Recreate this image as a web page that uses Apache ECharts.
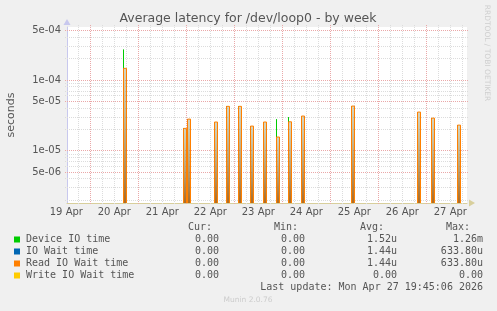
<!DOCTYPE html>
<html><head><meta charset="utf-8">
<script src="https://cdn.jsdelivr.net/npm/echarts@6/dist/echarts.min.js"></script>
<style>html,body{margin:0;padding:0;background:#f0f0f0}#c{width:497px;height:311px}</style>
</head><body><div id="c"></div>
<script>
// ---- data ----
const spikeTimes = [
  '2026-04-20T17:30:00Z','2026-04-21T23:30:00Z','2026-04-22T01:30:00Z','2026-04-22T15:00:00Z',
  '2026-04-22T21:00:00Z','2026-04-23T03:00:00Z','2026-04-23T09:00:00Z','2026-04-23T15:30:00Z',
  '2026-04-23T22:00:00Z','2026-04-24T04:00:00Z','2026-04-24T10:30:00Z','2026-04-25T11:30:00Z',
  '2026-04-26T20:30:00Z','2026-04-27T03:30:00Z','2026-04-27T16:30:00Z'
];
const deviceIO  = [2.67e-4, 2.04e-5, 2.76e-5, 2.51e-5, 4.18e-5, 4.18e-5, 2.2e-5, 2.51e-5, 2.76e-5, 2.95e-5, 3.05e-5, 4.22e-5, 3.47e-5, 2.85e-5, 2.27e-5];
const ioWait    = [1.44e-4, 2.04e-5, 2.76e-5, 2.51e-5, 4.18e-5, 4.18e-5, 2.2e-5, 2.51e-5, 1.54e-5, 2.53e-5, 3.05e-5, 4.22e-5, 3.47e-5, 2.85e-5, 2.27e-5];
const readIO    = [1.44e-4, 2.04e-5, 2.76e-5, 2.51e-5, 4.18e-5, 4.18e-5, 2.2e-5, 2.51e-5, 1.54e-5, 2.53e-5, 3.05e-5, 4.22e-5, 3.47e-5, 2.85e-5, 2.27e-5];
const writeIO   = [0,0,0,0,0,0,0,0,0,0,0,0,0,0,0];

const dayLabels = ['19 Apr','20 Apr','21 Apr','22 Apr','23 Apr','24 Apr','25 Apr','26 Apr','27 Apr'];
const dayLabelTimes = ['2026-04-19T12:00:00Z','2026-04-20T12:00:00Z','2026-04-21T12:00:00Z','2026-04-22T12:00:00Z','2026-04-23T12:00:00Z','2026-04-24T12:00:00Z','2026-04-25T12:00:00Z','2026-04-26T12:00:00Z','2026-04-27T12:00:00Z'];
const yTickValues = [5e-6, 1e-5, 5e-5, 1e-4, 5e-4];
const yTickLabels = ['5e-06','1e-05','5e-05','1e-04','5e-04'];
const yMinorValues = [2e-6,3e-6,4e-6,6e-6,7e-6,8e-6,9e-6,2e-5,3e-5,4e-5,6e-5,7e-5,8e-5,9e-5,2e-4,3e-4,4e-4];

const seriesNames = ['Device IO time','IO Wait time','Read IO Wait time','Write IO Wait time'];
const seriesColors = ['#00cc00','#0066b3','#ff8000','#ffcc00'];
const curVals = ['0.00','0.00','0.00','0.00'];
const minVals = ['0.00','0.00','0.00','0.00'];
const avgVals = ['1.52u','1.44u','1.44u','0.00'];
const maxVals = ['1.26m','633.80u','633.80u','0.00'];

const xStart = Date.parse('2026-04-19T12:20:00Z');
const xEnd   = Date.parse('2026-04-27T20:20:00Z');
const yMin = 1.8e-6, yMax = 5.53e-4;

// ---- chart ----
const chart = echarts.init(document.getElementById('c'), null, {renderer:'canvas'});
const T = s => Date.parse(s);
const pair = arr => spikeTimes.map((t,i)=>[T(t), arr[i]]);
const GRAY = '#dcdcdc', RED = '#eaa8a8', TXT = '#555';

function spikeRenderer(color, withFill){
  return function(params, api){
    const v = api.value(1);
    if (!(v > 0)) return null;
    const p = api.coord([api.value(0), v]);
    const cs = params.coordSys;
    const yb = cs.y + cs.height;
    const x0 = Math.floor(p[0]) - 1.5, x1 = x0 + 3;
    const ch = [];
    if (withFill) {
      ch.push({type:'rect', shape:{x:x0, y:p[1], width:x1-x0, height:yb-p[1]},
        style:{fill:new echarts.graphic.LinearGradient(0,0,0,1,[{offset:0,color:'rgba(160,160,110,0.45)'},{offset:1,color:'rgba(172,108,38,1)'}])}});
      ch.push({type:'polyline', shape:{points:[[x0,yb],[x0,p[1]],[x1,p[1]],[x1,yb]]}, style:{stroke:color, fill:null, lineWidth:1}});
    } else {
      ch.push({type:'line', shape:{x1:x0, y1:yb, x2:x0, y2:p[1]}, style:{stroke:color, lineWidth:1}});
    }
    return {type:'group', children:ch};
  };
}

function hLineRenderer(color, labels){
  return function(params, api){
    const p = api.coord([api.value(0), api.value(1)]);
    const cs = params.coordSys;
    const y = Math.round(p[1]) + 0.5;
    const ch = [{type:'line', shape:{x1:cs.x-2, y1:y, x2:cs.x+cs.width+2, y2:y}, style:{stroke:color, lineWidth:1, lineDash:[1,1]}}];
    if (labels) ch.push({type:'text', style:{text:labels[params.dataIndex], x:cs.x-6, y:y, textAlign:'right', textVerticalAlign:'middle', fill:TXT, font:'10px "DejaVu Sans"'}});
    return {type:'group', children:ch};
  };
}
function vLineRenderer(params, api){
  const t = api.value(0);
  const p = api.coord([t, yMin]);
  const cs = params.coordSys;
  const x = Math.round(p[0]) + 0.5;
  const major = (t % 86400000) === 0;
  return {type:'line', shape:{x1:x, y1:cs.y-2, x2:x, y2:cs.y+cs.height+2}, style:{stroke: major?RED:GRAY, lineWidth:1, lineDash:[1,1]}};
}
function dayLabelRenderer(params, api){
  const p = api.coord([api.value(0), yMin]);
  const cs = params.coordSys;
  return {type:'text', style:{text:dayLabels[params.dataIndex], x:p[0], y:cs.y+cs.height+9, textAlign:'center', textVerticalAlign:'middle', fill:TXT, font:'10px "DejaVu Sans"'}};
}

const vGridTimes = [];
const SIXH = 6*3600*1000;
for (let t = Math.ceil(xStart/SIXH)*SIXH; t < xEnd; t += SIXH) vGridTimes.push([t, yMin]);

const mono = '10px "DejaVu Sans Mono"';
const g = [];
g.push({type:'rect', shape:{x:67, y:27, width:400, height:176}, style:{fill:'#fff'}, z:-10});
g.push({type:'text', x:248, y:19, style:{text:'Average latency for /dev/loop0 - by week', fill:TXT, font:'12.5px "DejaVu Sans"', textAlign:'center', textVerticalAlign:'middle'}});
g.push({type:'text', x:11, y:115, rotation:Math.PI/2, style:{text:'seconds', fill:TXT, font:'11px "DejaVu Sans"', textAlign:'center', textVerticalAlign:'middle'}});
g.push({type:'text', x:487, y:53, rotation:-Math.PI/2, style:{text:'RRDTOOL / TOBI OETIKER', fill:'#cfcfcf', font:'7.5px "DejaVu Sans"', textAlign:'center', textVerticalAlign:'middle'}});
[['Cur:',212],['Min:',298],['Avg:',384],['Max:',470]].forEach(h => g.push({type:'text', x:h[1], y:227, style:{text:h[0], fill:TXT, font:mono, textAlign:'right', textVerticalAlign:'middle'}}));
seriesNames.forEach((n,i) => {
  const y = 239.5 + i*12;
  g.push({type:'rect', shape:{x:14, y:y-3, width:6, height:6}, style:{fill:seriesColors[i]}});
  g.push({type:'text', x:26, y:y, style:{text:n, fill:TXT, font:mono, textAlign:'left', textVerticalAlign:'middle'}});
  [[curVals,219],[minVals,305],[avgVals,397],[maxVals,483]].forEach(c => g.push({type:'text', x:c[1], y:y, style:{text:c[0][i], fill:TXT, font:mono, textAlign:'right', textVerticalAlign:'middle'}}));
});
g.push({type:'text', x:483, y:287.5, style:{text:'Last update: Mon Apr 27 19:45:06 2026', fill:TXT, font:mono, textAlign:'right', textVerticalAlign:'middle'}});
g.push({type:'text', x:248, y:300, style:{text:'Munin 2.0.76', fill:'#cccccc', font:'7.5px "DejaVu Sans"', textAlign:'center', textVerticalAlign:'middle'}});

chart.setOption({
  animation:false,
  backgroundColor:'#f0f0f0',
  grid:{left:67, top:27, width:400, height:176, containLabel:false},
  xAxis:{type:'time', min:xStart, max:xEnd, axisLabel:{show:false}, axisTick:{show:false}, splitLine:{show:false},
    axisLine:{show:true, lineStyle:{color:'#d8cf9c', width:1}, symbol:['none','triangle'], symbolSize:[7,6], symbolOffset:[0,5]}},
  yAxis:{type:'log', logBase:10, min:yMin, max:yMax, axisLabel:{show:false}, axisTick:{show:false}, splitLine:{show:false},
    axisLine:{show:true, lineStyle:{color:'#c8c8ee', width:1}, symbol:['none','triangle'], symbolSize:[7,6], symbolOffset:[0,5]}},
  graphic:g,
  series:[
    {type:'custom', data:yMinorValues.map(v=>[xStart,v]), encode:{x:0,y:1}, clip:false, z:1, silent:true, renderItem:hLineRenderer(GRAY, null)},
    {type:'custom', data:vGridTimes, encode:{x:0,y:1}, clip:false, z:1, silent:true, renderItem:vLineRenderer},
    {type:'custom', data:yTickValues.map(v=>[xStart,v]), encode:{x:0,y:1}, clip:false, z:2, silent:true, renderItem:hLineRenderer(RED, yTickLabels)},
    {type:'custom', data:dayLabelTimes.map(t=>[T(t), yMin]), encode:{x:0,y:1}, clip:false, z:2, silent:true, renderItem:dayLabelRenderer},
    {name:seriesNames[0], type:'custom', data:pair(deviceIO), encode:{x:0,y:1}, clip:true, z:3, renderItem:spikeRenderer(seriesColors[0], false)},
    {name:seriesNames[1], type:'custom', data:pair(ioWait), encode:{x:0,y:1}, clip:true, z:4, renderItem:spikeRenderer(seriesColors[1], false)},
    {name:seriesNames[2], type:'custom', data:pair(readIO), encode:{x:0,y:1}, clip:true, z:5, renderItem:spikeRenderer(seriesColors[2], true)},
    {name:seriesNames[3], type:'custom', data:pair(writeIO), encode:{x:0,y:1}, clip:true, z:6, renderItem:spikeRenderer(seriesColors[3], false)}
  ]
});
</script></body></html>
